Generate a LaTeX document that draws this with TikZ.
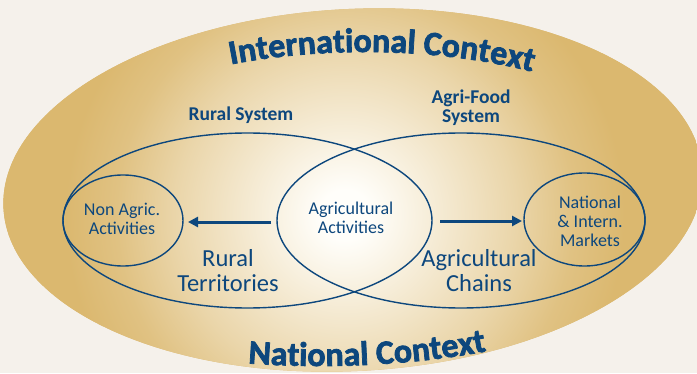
\documentclass[tikz,border=0pt]{standalone}
\usepackage{fontspec}
\setmainfont{Carlito}
\newfontfamily\heavyfont{Carlito}[BoldFeatures={FakeBold=2.2}]
\usetikzlibrary{arrows.meta,decorations.text}
\definecolor{tblue}{HTML}{0D477D}
\definecolor{bgc}{HTML}{F5F1EB}
\definecolor{goldc}{HTML}{DBB86F}
\definecolor{centc}{HTML}{FFFEFA}
\pgfdeclareradialshading{goldrad}{\pgfpoint{0bp}{0bp}}{%
  color(0bp)=(centc);
  color(1.7bp)=(centc);
  color(6.75bp)=(goldc!30!centc);
  color(11.5bp)=(goldc!58!centc);
  color(15.5bp)=(goldc!86!centc);
  color(18.9bp)=(goldc);
  color(50bp)=(goldc)}
\begin{document}
\begin{tikzpicture}[x=1pt,y=1pt,
  ring/.style={draw=tblue,line width=1.4pt},
  lbl/.style={text=tblue,align=center,inner sep=0pt,font=\fontsize{18}{19}\selectfont},
  biglbl/.style={text=tblue,align=center,inner sep=0pt,font=\fontsize{24.5}{25}\selectfont},
  sys/.style={text=tblue,align=center,inner sep=0pt,font=\bfseries\fontsize{19.5}{19}\selectfont},
  arr/.style={draw=tblue,line width=3pt,-{Triangle[length=10pt,width=10pt]}}]
\useasboundingbox (0,0) rectangle (697,373);
\clip (0,0) rectangle (697,373);
\fill[bgc] (0,0) rectangle (697,373);
% big ellipse
\begin{scope}
  \clip[rotate around={3:(353,183)}] (353,183) ellipse [x radius=350, y radius=181];
  \fill[goldc] (0,0) rectangle (697,373);
  \shade[shading=goldrad] (345,158) circle [radius=370pt];
\end{scope}
% systems
\draw[ring] (247.5,152.5) ellipse [x radius=184.5, y radius=87.5];
\draw[ring] (461,152.5) ellipse [x radius=184, y radius=87.5];
\draw[ring] (123,152.5) ellipse [x radius=60, y radius=45.5];
\draw[ring] (584.5,153.5) ellipse [x radius=60.5, y radius=46.5];
% labels
\node[sys] (rural) at (241,258) {Rural System};
\node[sys] (agrifood) at (471,265) {Agri-Food\\System};
\node[lbl] (nonagric) at (122,154) {Non Agric.\\Activities};
\node[lbl] (agract) at (351,155) {Agricultural\\Activities};
\node[lbl] (markets) at (590,152) {National\\\& Intern.\\Markets};
\node[biglbl] (territ) at (228,102) {Rural\\Territories};
\node[biglbl] (chains) at (479,102) {Agricultural\\Chains};
% arrows
\coordinate (la) at (271,151);
\coordinate (lb) at (188,151);
\coordinate (ra) at (440,152);
\coordinate (rb) at (522,152);
\draw[arr] (la) -- (lb);
\draw[arr] (ra) -- (rb);
% curved titles
\path[decorate,decoration={text along path,text align=left,text color=tblue,
  text={|\heavyfont\bfseries\fontsize{34}{34}\selectfont|International Context}}]
  (365,178) ++(114:330 and 143) arc [start angle=114,end angle=15,x radius=330,y radius=143];
\path[decorate,decoration={text along path,text align=left,text color=tblue,
  text={|\heavyfont\bfseries\fontsize{34}{34}\selectfont|National Context}}]
  (320,187) ++(260.13:420 and 180) arc [start angle=260.13,end angle=330,x radius=420,y radius=180];
\end{tikzpicture}
\end{document}
